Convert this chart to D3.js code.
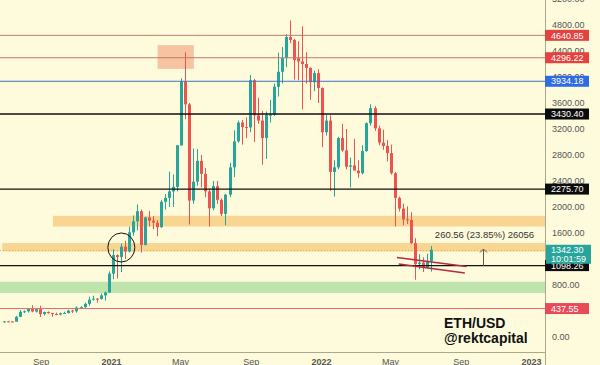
<!DOCTYPE html>
<html><head><meta charset="utf-8">
<script src="https://cdn.jsdelivr.net/npm/d3@7"></script>
<style>html,body{margin:0;padding:0;background:#fdfbdc;} svg{display:block;}</style>
</head><body><svg id="c" width="600" height="365"></svg>
<script>
// ---------- DATA ----------
const weeks = [
"2020-06-29","2020-07-06","2020-07-13","2020-07-20","2020-07-27","2020-08-03","2020-08-10","2020-08-17","2020-08-24","2020-08-31",
"2020-09-07","2020-09-14","2020-09-21","2020-09-28","2020-10-05","2020-10-12","2020-10-19","2020-10-26","2020-11-02","2020-11-09",
"2020-11-16","2020-11-23","2020-11-30","2020-12-07","2020-12-14","2020-12-21","2020-12-28","2021-01-04","2021-01-11","2021-01-18",
"2021-01-25","2021-02-01","2021-02-08","2021-02-15","2021-02-22","2021-03-01","2021-03-08","2021-03-15","2021-03-22","2021-03-29",
"2021-04-05","2021-04-12","2021-04-19","2021-04-26","2021-05-03","2021-05-10","2021-05-17","2021-05-24","2021-05-31","2021-06-07",
"2021-06-14","2021-06-21","2021-06-28","2021-07-05","2021-07-12","2021-07-19","2021-07-26","2021-08-02","2021-08-09","2021-08-16",
"2021-08-23","2021-08-30","2021-09-06","2021-09-13","2021-09-20","2021-09-27","2021-10-04","2021-10-11","2021-10-18","2021-10-25",
"2021-11-01","2021-11-08","2021-11-15","2021-11-22","2021-11-29","2021-12-06","2021-12-13","2021-12-20","2021-12-27","2022-01-03",
"2022-01-10","2022-01-17","2022-01-24","2022-01-31","2022-02-07","2022-02-14","2022-02-21","2022-02-28","2022-03-07","2022-03-14",
"2022-03-21","2022-03-28","2022-04-04","2022-04-11","2022-04-18","2022-04-25","2022-05-02","2022-05-09","2022-05-16","2022-05-23",
"2022-05-30","2022-06-06","2022-06-13","2022-06-20","2022-06-27","2022-07-04","2022-07-11"];
const open = [
225,241,239,236,311,387,395,433,392,428,
353,385,368,355,346,366,369,406,396,454,
460,510,575,590,585,640,685,975,1260,1230,
1390,1315,1610,1780,1935,1416,1840,1790,1760,1690,
2080,2140,2240,2310,2950,3930,3580,2100,2390,2710,
2510,2240,1980,2320,2110,1895,2190,2610,3010,3300,
3230,3225,3950,3410,3330,3060,3415,3420,3850,4080,
4290,4615,4570,4290,4240,4200,4140,3920,4060,3830,
3150,3330,2540,2610,3060,2870,2620,2640,2560,2520,
2860,3290,3520,3210,2990,2940,2830,2520,2140,1975,
1810,1800,1445,1125,1145,1070,1165];
const high = [
246,249,245,325,415,410,445,490,440,480,
390,395,372,375,375,390,420,415,470,475,
530,620,635,600,670,700,1010,1350,1270,1440,
1480,1700,1870,2040,1960,1850,1940,1860,1800,2110,
2200,2545,2500,2950,3980,4380,3600,2900,2890,2800,
2600,2280,2400,2400,2130,2200,2680,3180,3330,3340,
3380,4030,3970,3680,3480,3470,3650,3900,4375,4460,
4660,4870,4590,4550,4780,4380,4150,4100,4120,3840,
3420,3410,2720,3080,3280,3200,2760,3050,2720,2950,
3300,3580,3550,3250,3190,3030,2960,2540,2160,2050,
2010,1920,1520,1275,1225,1280,1400];
const low = [
222,235,230,235,305,370,375,380,375,308,
330,360,310,335,335,360,360,370,375,440,
445,480,560,530,575,560,680,890,900,1000,
1200,1300,1560,1640,1300,1410,1700,1660,1550,1680,
1960,2000,2000,2240,2940,3350,1730,2050,2330,2300,
2150,1700,1950,2050,1860,1720,2150,2460,2990,2960,
3060,3150,3000,3280,2650,2740,3300,3400,3700,3900,
4150,4520,3960,3950,3500,3900,3650,3780,3600,2920,
3100,2250,2160,2580,2850,2580,2300,2570,2450,2500,
2850,3250,3170,2950,2880,2700,2500,1700,1930,1720,
1740,1430,880,1040,1000,1060,1006];
const close = [
241,239,236,311,387,395,433,392,428,353,
385,368,355,346,366,369,406,396,454,460,
510,575,590,585,640,685,975,1260,1230,1390,
1315,1610,1780,1935,1416,1840,1790,1760,1690,2080,
2140,2240,2310,2950,3930,3580,2100,2390,2710,2510,
2240,1980,2320,2110,1895,2190,2610,3010,3300,3230,
3225,3950,3410,3330,3060,3415,3420,3850,4080,4290,
4615,4570,4260,4240,4200,4140,3920,4060,3830,3150,
3330,2540,2610,3060,2870,2620,2640,2560,2520,2860,
3290,3520,3210,2990,2940,2830,2520,2140,1975,1810,
1800,1445,1125,1145,1070,1165,1342.30];

const levelPrices = [4640.85, 4296.22, 3934.18, 3430.40, 2275.70, 1098.26, 437.55];
const levelLabels = ["4640.85","4296.22","3934.18","3430.40","2275.70","1098.26","437.55"];
const lastPrice = 1342.30;
const lastPriceLabel = "1342.30";
const countdownLabel = "10:01:59";

const zoneLow   = [1700, 1315, 675];
const zoneHigh  = [1865, 1445, 850];
const zoneStart = ["2020-09-22", "2020-06-26", "2020-06-20"];

const boxDates  = ["2021-03-23", "2021-05-25"];
const boxPrices = [4125, 4490];

const wedgeUpperDates  = ["2022-05-13", "2022-09-11"];
const wedgeUpperPrices = [1223, 1085];
const wedgeLowerDates  = ["2022-05-16", "2022-09-08"];
const wedgeLowerPrices = [1123, 985];

const circleDate = "2021-01-19";
const circlePrice = 1377;

const measureDate = "2022-10-09";
const measurePrices = [1092.5, 1353];
const measureText = "260.56 (23.85%) 26056";

const yTicks = [0,800,1600,2000,2400,2800,3200,3600,4000,4400,4800,5200];
const xTickDates  = ["2020-09-01","2021-01-01","2021-05-01","2021-09-01","2022-01-01","2022-05-01","2022-09-01","2023-01-01"];
const xTickLabels = ["Sep","2021","May","Sep","2022","May","Sep","2023"];

const titleLines = ["ETH/USD", "@rektcapital"];

// ---------- STYLE ----------
const W = 600, H = 365, plotR = 545, plotB = 352;
const BG = "#fdfbdc";
const UP = "#26a69a", DOWN = "#ef5350";
const levelLine = ["#c07a66","#c07a66","#4470c0","#111111","#111111","#111111","#e36a6a"];
const levelBox  = ["#e5413f","#e5413f","#2e6be4","#0c0c0c","#0c0c0c","#0c0c0c","#e84a58"];
const levelW    = [1,1,1,1.4,1.4,1.4,1];
const zoneFill  = ["#f8d591","#f8d591","#bfe4ab"];
const FONT = "'Liberation Sans', Arial, sans-serif";

const parse = d3.timeParse("%Y-%m-%d");
const x = d3.scaleTime().domain([parse("2021-01-01"), parse("2023-01-01")]).range([111, 531]);
const y = d3.scaleLinear().domain([0, 4800]).range([337, 25]);

const svg = d3.select("#c");
svg.append("rect").attr("width", W).attr("height", H).attr("fill", BG);

svg.append("defs").append("clipPath").attr("id","plot")
  .append("rect").attr("x",0).attr("y",0).attr("width",plotR).attr("height",plotB);
const g = svg.append("g").attr("clip-path","url(#plot)");

// zones
g.selectAll("rect.zone").data(zoneLow).join("rect").attr("class","zone")
  .attr("x",(d,i)=>x(parse(zoneStart[i])))
  .attr("width",(d,i)=>plotR - x(parse(zoneStart[i])))
  .attr("y",(d,i)=>y(zoneHigh[i]))
  .attr("height",(d,i)=>y(zoneLow[i]) - y(zoneHigh[i]))
  .attr("fill",(d,i)=>zoneFill[i]);

// salmon box
g.append("rect")
  .attr("x", x(parse(boxDates[0]))).attr("width", x(parse(boxDates[1])) - x(parse(boxDates[0])))
  .attr("y", y(boxPrices[1])).attr("height", y(boxPrices[0]) - y(boxPrices[1]))
  .attr("fill", "#f7c4a2");

// current price dotted line
g.append("line").attr("x1",0).attr("x2",plotR)
  .attr("y1",Math.round(y(lastPrice))+0.5).attr("y2",Math.round(y(lastPrice))+0.5)
  .attr("stroke","#e9a94e").attr("stroke-width",1).attr("stroke-dasharray","1,2");

// candles
const candles = g.selectAll("g.c").data(weeks).join("g").attr("class","c");
candles.append("rect")
  .attr("x",(d,i)=>Math.round(x(parse(d))))
  .attr("width",1)
  .attr("y",(d,i)=>y(high[i]))
  .attr("height",(d,i)=>Math.max(1, y(low[i]) - y(high[i])))
  .attr("fill",(d,i)=>close[i] >= open[i] ? UP : DOWN);
candles.append("rect")
  .attr("x",(d,i)=>Math.round(x(parse(d))) - 1)
  .attr("width",3)
  .attr("y",(d,i)=>y(Math.max(open[i],close[i])))
  .attr("height",(d,i)=>Math.max(1, Math.abs(y(open[i]) - y(close[i]))))
  .attr("fill",(d,i)=>close[i] >= open[i] ? UP : DOWN);

// level lines
g.selectAll("line.lv").data(levelPrices).join("line").attr("class","lv")
  .attr("x1",0).attr("x2",plotR)
  .attr("y1",d=>y(d)).attr("y2",d=>y(d))
  .attr("stroke",(d,i)=>levelLine[i]).attr("stroke-width",(d,i)=>levelW[i]);

// wedge lines
const wedge = [[wedgeUpperDates, wedgeUpperPrices],[wedgeLowerDates, wedgeLowerPrices]];
g.selectAll("line.wd").data(wedge).join("line").attr("class","wd")
  .attr("x1",d=>x(parse(d[0][0]))).attr("y1",d=>y(d[1][0]))
  .attr("x2",d=>x(parse(d[0][1]))).attr("y2",d=>y(d[1][1]))
  .attr("stroke","#b8283f").attr("stroke-width",1.4);

// circle
g.append("ellipse").attr("cx", x(parse(circleDate))).attr("cy", y(circlePrice))
  .attr("rx",13.5).attr("ry",14.5).attr("fill","none").attr("stroke","#111").attr("stroke-width",1);

// measurement arrow
const mx = Math.round(x(parse(measureDate))) + 0.5;
g.append("line").attr("x1",mx).attr("x2",mx).attr("y1",y(measurePrices[0])).attr("y2",y(measurePrices[1]))
  .attr("stroke","#5b5a45").attr("stroke-width",1);
g.append("path").attr("d",`M${mx-3.5},${y(measurePrices[1])+3.5} L${mx},${y(measurePrices[1])} L${mx+3.5},${y(measurePrices[1])+3.5}`)
  .attr("fill","none").attr("stroke","#5b5a45").attr("stroke-width",1);
g.append("text").attr("x",mx+1).attr("y",238).attr("text-anchor","middle")
  .attr("font-family",FONT).attr("font-size",9.5).attr("fill","#333").text(measureText);

// title
g.selectAll("text.tt").data(titleLines).join("text").attr("class","tt")
  .attr("x",444).attr("y",(d,i)=>328 + i*14.5)
  .attr("font-family",FONT).attr("font-size",14).attr("font-weight","bold").attr("fill","#111").text(d=>d);

// separators
svg.append("line").attr("x1",plotR+0.5).attr("x2",plotR+0.5).attr("y1",0).attr("y2",H).attr("stroke","#aaa791").attr("stroke-width",1);
svg.append("line").attr("x1",0).attr("x2",plotR).attr("y1",plotB+0.5).attr("y2",plotB+0.5).attr("stroke","#aaa791").attr("stroke-width",1);

// right axis
const ay = svg.append("g").attr("transform",`translate(${plotR+3},0)`)
  .call(d3.axisRight(y).tickValues(yTicks).tickFormat(d=>d.toFixed(2)).tickSize(0).tickPadding(4));
ay.select(".domain").remove();
ay.selectAll("text").attr("font-family",FONT).attr("font-size",9).attr("fill","#555");

// level boxes
const lb = svg.selectAll("g.lb").data(levelPrices).join("g").attr("class","lb")
  .attr("transform",d=>`translate(${plotR},${y(d)})`);
lb.append("rect").attr("x",0).attr("y",-5.5).attr("width",44).attr("height",11).attr("fill",(d,i)=>levelBox[i]);
lb.append("text").attr("x",6).attr("y",0).attr("dy","0.35em").attr("font-family",FONT).attr("font-size",9)
  .attr("fill","#fff").text((d,i)=>levelLabels[i]);

// last price box
const lp = svg.append("g").attr("transform",`translate(${plotR+1},${y(lastPrice)})`);
lp.append("rect").attr("x",0).attr("y",-5).attr("width",45).attr("height",19).attr("fill","#28a59b");
lp.append("text").attr("x",5).attr("y",0).attr("dy","0.35em").attr("font-family",FONT).attr("font-size",9).attr("fill","#fff").text(lastPriceLabel);
lp.append("text").attr("x",5).attr("y",9).attr("dy","0.35em").attr("font-family",FONT).attr("font-size",9).attr("fill","#fff").text(countdownLabel);

// bottom axis
const ax = svg.append("g").attr("transform",`translate(0,${plotB})`)
  .call(d3.axisBottom(x).tickValues(xTickDates.map(parse)).tickFormat((d,i)=>xTickLabels[i]).tickSize(0).tickPadding(7));
ax.select(".domain").remove();
ax.selectAll("text").attr("font-family",FONT).attr("font-size",9).attr("fill","#555")
  .attr("font-weight",(d,i)=>/^\d+$/.test(xTickLabels[i]) ? "bold" : "normal");
</script></body></html>
